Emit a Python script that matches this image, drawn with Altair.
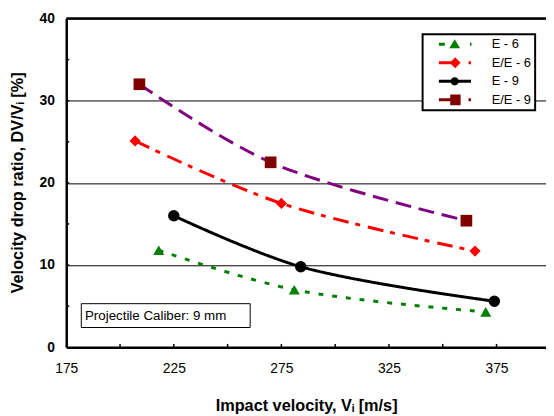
import altair as alt
import pandas as pd

# ---- data ----
series = ["E - 6", "E/E - 6", "E - 9", "E/E - 9"]
x_e6 = [218, 281, 370]
y_e6 = [11.8, 7.0, 4.3]
x_ee6 = [207, 275, 365]
y_ee6 = [25.1, 17.5, 11.7]
x_e9 = [225, 284, 374]
y_e9 = [16.0, 9.8, 5.6]
x_ee9 = [209, 270, 361]
y_ee9 = [32.0, 22.5, 15.4]

x_label_values = [175, 225, 275, 325, 375]
x_minor_ticks = [200, 225, 250, 275, 300, 325, 350, 375]
y_label_values = [0, 10, 20, 30, 40]
y_minor_ticks = [5, 10, 15, 20, 25, 30, 35]
x_domain = [175, 398]
y_domain = [0, 40]

note_text = "Projectile Caliber: 9 mm"
note_box_x = [182, 260.5]
note_box_y = [2.4, 5.3]

# ---- styles ----
line_colors = ["#008000", "#FF0000", "#000000", "#800080"]
marker_colors = ["#008000", "#FF0000", "#000000", "#800000"]
dash_patterns = [[5, 9], [16, 7, 5, 8], [1, 0], [16, 8]]
shapes = ["triangle-up", "diamond", "circle", "square"]
marker_sizes = [125, 140, 75, 100]
# legend glyphs (line pieces + marker), in pixel units (symbol size 4 -> scale 1)
legend_glyphs = [
    "M-16,-1.5H-10V1.5H-16Z M-5.5,4L0,-5L5.5,4Z M15.5,-1.5H17V1.5H15.5Z",
    "M-16,-1.5H0V1.5H-16Z M0.5,-5.5L6,0L0.5,5.5L-5,0Z M14,-1.5H16.5V1.5H14Z",
    "M-16,-1.5H16.5V1.5H-16Z M-4.2,0A4.2,4.2 0 1,1 4.2,0A4.2,4.2 0 1,1 -4.2,0Z",
    "M-16,-1.5H-4V1.5H-16Z M-4.5,-5.5H6V5.5H-4.5Z M14,-1.5H16.5V1.5H14Z",
]
FONT = "Liberation Sans"
NBSP = "\u00a0"

rows = []
for name, xs, ys in zip(series, [x_e6, x_ee6, x_e9, x_ee9], [y_e6, y_ee6, y_e9, y_ee9]):
    for xv, yv in zip(xs, ys):
        rows.append({"series": name, "series_l": name, "v": xv, "r": yv})
df = pd.DataFrame(rows)

xscale = alt.Scale(domain=x_domain, nice=False, zero=False)
yscale = alt.Scale(domain=y_domain, nice=False)

x_axis = alt.Axis(
    values=x_label_values, grid=False, ticks=False, domainColor="black", domainWidth=2.5,
    labelFont=FONT, labelFontSize=14, labelColor="black", labelPadding=15, labelFlush=False,
    title="Impact velocity, V\u1d62 [m/s]", titleFont=FONT, titleFontSize=16.5,
    titleFontWeight="bold", titleColor="black", titleY=59, titleBaseline="middle",
)
y_axis = alt.Axis(
    values=y_label_values, grid=True, gridColor="black", gridWidth=1, ticks=False,
    domainColor="black", domainWidth=2.5, labelFlush=False,
    labelFont=FONT, labelFontSize=14, labelFontWeight="bold", labelColor="black", labelPadding=12,
    title="Velocity drop ratio, DV/V\u1d62 [%]", titleFont=FONT, titleFontSize=16.5,
    titleFontWeight="bold", titleColor="black", titleX=-49, titleY=166,
    titleAlign="center", titleBaseline="middle", titleAngle=270,
)

base_axes = alt.Chart(pd.DataFrame({"t": [y_domain[1]]})).mark_rule(
    color="black", strokeWidth=2.5
).encode(
    y=alt.Y("t:Q", scale=yscale, axis=y_axis),
)

xt = pd.DataFrame({"x": x_minor_ticks, "y0": [0] * len(x_minor_ticks), "y1": [0.4] * len(x_minor_ticks)})
x_ticks_layer = alt.Chart(xt).mark_rule(color="black", strokeWidth=1.5).encode(
    x=alt.X("x:Q", scale=xscale, axis=x_axis), y="y0:Q", y2="y1:Q"
)
yt = pd.DataFrame({"y": y_minor_ticks, "x0": [x_domain[0]] * len(y_minor_ticks),
                   "x1": [x_domain[0] + 1.4] * len(y_minor_ticks)})
y_ticks_layer = alt.Chart(yt).mark_rule(color="black", strokeWidth=1.5).encode(
    y="y:Q", x="x0:Q", x2="x1:Q"
)

note_df = pd.DataFrame({"x0": [note_box_x[0]], "x1": [note_box_x[1]],
                        "y0": [note_box_y[0]], "y1": [note_box_y[1]],
                        "tx": [note_box_x[0] + 1.7], "ty": [(note_box_y[0] + note_box_y[1]) / 2],
                        "label": [note_text]})
note_rect = alt.Chart(note_df).mark_rect(fill="white", stroke="black", strokeWidth=1).encode(
    x="x0:Q", x2="x1:Q", y="y0:Q", y2="y1:Q"
)
note_label = alt.Chart(note_df).mark_text(
    align="left", baseline="middle", font=FONT, fontSize=13.5, color="black"
).encode(x="tx:Q", y="ty:Q", text="label:N")

lines = alt.Chart(df).mark_line(strokeWidth=3, interpolate="catmull-rom").encode(
    x="v:Q", y="r:Q",
    color=alt.Color("series:N", scale=alt.Scale(domain=series, range=line_colors), legend=None),
    strokeDash=alt.StrokeDash("series:N", scale=alt.Scale(domain=series, range=dash_patterns), legend=None),
)
points = alt.Chart(df).mark_point(filled=True, opacity=1).encode(
    x="v:Q", y="r:Q",
    fill=alt.Fill("series:N", scale=alt.Scale(domain=series, range=marker_colors), legend=None),
    shape=alt.Shape("series:N", scale=alt.Scale(domain=series, range=shapes), legend=None),
    size=alt.Size("series:N", scale=alt.Scale(domain=series, range=marker_sizes), legend=None),
)

legend_def = alt.Legend(
    title=None, orient="none", legendX=361, legendY=16, padding=3.5,
    fillColor="white", strokeColor="black", rowPadding=4.8,
    symbolSize=4, symbolStrokeWidth=0, symbolOpacity=1, symbolOffset=22.5,
    labelOffset=31, labelFont=FONT, labelFontSize=13, labelColor="black",
    labelExpr="datum.label + '" + NBSP * 8 + "'", zindex=1,
)
# invisible layer that only carries the legend (line piece + marker glyphs)
legend_layer = alt.Chart(df).mark_point(filled=True, opacity=0).encode(
    x="v:Q", y="r:Q",
    fill=alt.Fill("series_l:N", scale=alt.Scale(domain=series, range=marker_colors), legend=legend_def),
    shape=alt.Shape("series_l:N", scale=alt.Scale(domain=series, range=legend_glyphs), legend=legend_def),
)

chart = alt.layer(
    base_axes, x_ticks_layer, y_ticks_layer, note_rect, note_label, lines, points, legend_layer
).resolve_scale(
    fill="independent", shape="independent"
).properties(
    width=486, height=333,
    autosize=alt.AutoSizeParams(type="none"),
    padding={"left": 59, "top": 8, "right": 0, "bottom": 66},
).configure_view(stroke=None).configure_legend(strokeWidth=2)

chart.save("out.html", embed_options={"renderer": "svg", "actions": False})
